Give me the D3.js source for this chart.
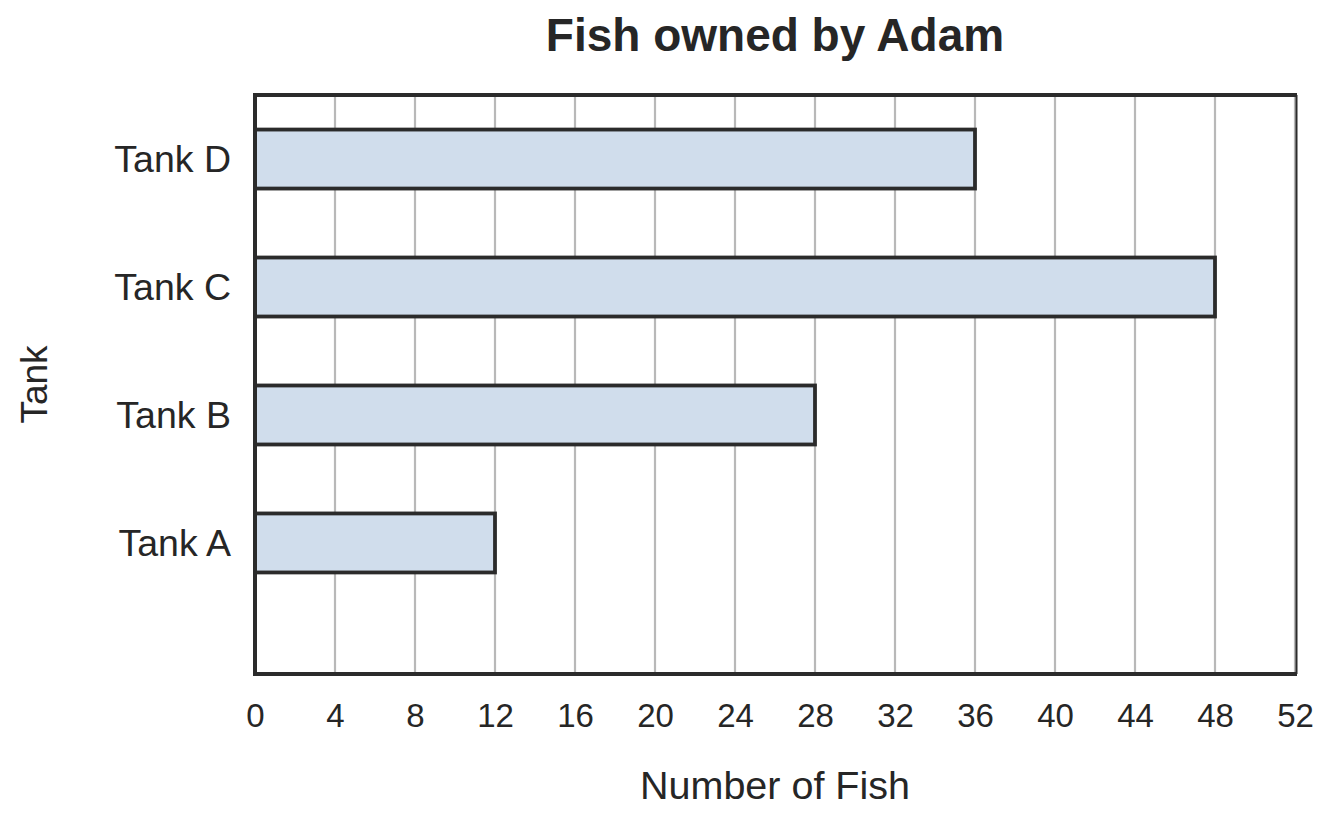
<!DOCTYPE html>
<html>
<head>
<meta charset="utf-8">
<script src="https://cdn.jsdelivr.net/npm/d3@7"></script>
<style>
  html, body { margin: 0; padding: 0; background: #fff; }
  text { font-family: "Liberation Sans", Arial, sans-serif; fill: #262626; }
</style>
</head>
<body>
<svg id="chart" width="1332" height="817"></svg>
<script>
const categories = ["Tank A", "Tank B", "Tank C", "Tank D"];
const values = [12, 28, 48, 36];
const xTicks = [0, 4, 8, 12, 16, 20, 24, 28, 32, 36, 40, 44, 48, 52];
const title = "Fish owned by Adam";
const xTitle = "Number of Fish";
const yTitle = "Tank";

const W = 1332, H = 817;
const plot = { left: 255, right: 1295, top: 95, bottom: 674 };

const svg = d3.select("#chart");

const x = d3.scaleLinear().domain([0, 52]).range([plot.left, plot.right]);
const y = d3.scaleBand()
  .domain(categories.slice().reverse())
  .range([plot.top, plot.top + (plot.bottom - plot.top) * 0.8843])
  .paddingInner(0.539)
  .paddingOuter(0.27);

// gridlines
svg.append("g")
  .selectAll("line")
  .data(xTicks)
  .join("line")
  .attr("x1", d => x(d)).attr("x2", d => x(d))
  .attr("y1", plot.top).attr("y2", plot.bottom)
  .attr("stroke", "#b8b8b8")
  .attr("stroke-width", 2.2);

// bars
svg.append("g")
  .selectAll("rect")
  .data(categories.map((c, i) => ({ c, v: values[i] })))
  .join("rect")
  .attr("x", x(0))
  .attr("y", d => y(d.c))
  .attr("width", d => x(d.v) - x(0))
  .attr("height", y.bandwidth())
  .attr("fill", "#d0ddec")
  .attr("stroke", "#2b2b2b")
  .attr("stroke-width", 3.8);

// frame
const frameColor = "#2b2b2b";
svg.append("line").attr("x1", plot.left - 2).attr("x2", plot.right + 2).attr("y1", plot.top).attr("y2", plot.top)
  .attr("stroke", frameColor).attr("stroke-width", 4);
svg.append("line").attr("x1", plot.left - 2).attr("x2", plot.right + 2).attr("y1", plot.bottom).attr("y2", plot.bottom)
  .attr("stroke", frameColor).attr("stroke-width", 4);
svg.append("line").attr("x1", plot.left).attr("x2", plot.left).attr("y1", plot.top - 2).attr("y2", plot.bottom + 2)
  .attr("stroke", frameColor).attr("stroke-width", 4);
svg.append("line").attr("x1", plot.right + 1.5).attr("x2", plot.right + 1.5).attr("y1", plot.top).attr("y2", plot.bottom)
  .attr("stroke", frameColor).attr("stroke-width", 2);

// x axis labels
const xAxis = d3.axisBottom(x).tickValues(xTicks).tickSize(0).tickPadding(0);
const gx = svg.append("g").attr("transform", `translate(0,${plot.bottom})`).call(xAxis);
gx.select(".domain").remove();
gx.selectAll("text")
  .attr("dy", null)
  .attr("y", 53)
  .style("font-size", "33px")
  .style("font-family", "'Liberation Sans', Arial, sans-serif")
  .attr("fill", "#262626");

// y axis labels
const yAxis = d3.axisLeft(y).tickSize(0).tickPadding(0);
const gy = svg.append("g").attr("transform", `translate(${plot.left - 24},0)`).call(yAxis);
gy.select(".domain").remove();
gy.selectAll("text")
  .attr("dy", "0.35em")
  .style("font-size", "37.5px")
  .style("font-family", "'Liberation Sans', Arial, sans-serif")
  .attr("fill", "#262626");

// titles
svg.append("text")
  .attr("x", (plot.left + plot.right) / 2)
  .attr("y", 51)
  .attr("text-anchor", "middle")
  .style("font-size", "46px")
  .style("font-weight", "bold")
  .text(title);

svg.append("text")
  .attr("x", (plot.left + plot.right) / 2)
  .attr("y", 799)
  .attr("text-anchor", "middle")
  .style("font-size", "39.5px")
  .text(xTitle);

svg.append("text")
  .attr("transform", `translate(47,${(plot.top + plot.bottom) / 2}) rotate(-90)`)
  .attr("text-anchor", "middle")
  .style("font-size", "37px")
  .text(yTitle);
</script>
</body>
</html>
